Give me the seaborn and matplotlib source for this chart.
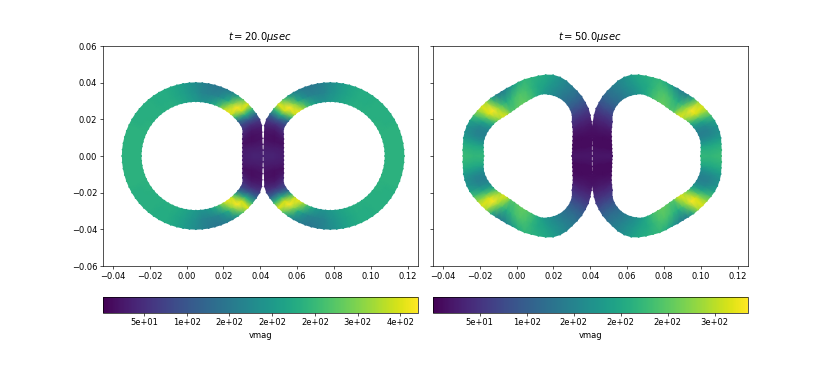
import numpy as np
import pandas as pd
import matplotlib
matplotlib.use("Agg")
import matplotlib.pyplot as plt
from matplotlib.cm import ScalarMappable
from matplotlib.colors import Normalize
import seaborn as sns

# Ring profile by angle around the left ring centre, radii in units of 1e-3
ANGLES = list(range(0, 185, 5))

# t = 20 usec
R_IN_20 = [25.5, 25.6, 25.9, 26.4, 27.1, 28.2, 29.5] + [29.8] * 30
R_OUT_20 = [36.1, 36.2, 36.5, 37.1, 38.0, 39.3] + [39.9] * 31
V_IN_20 = [30, 30, 26, 18, 26, 37, 55, 81, 130, 240, 340, 360, 325, 266, 229, 204, 192,
           192, 200, 207, 215, 222, 229, 233, 233, 233, 233, 233, 233, 237, 237, 237,
           237, 237, 237, 237, 237]
V_MID_20 = [37, 33, 26, 15, 15, 26, 52, 111, 230, 345, 370, 305, 229, 192, 170, 163, 163,
            170, 185, 196, 207, 215, 222, 229, 229, 229, 233, 233, 233, 233, 233, 237,
            237, 237, 237, 237, 237]
V_OUT_20 = [37, 33, 26, 18, 22, 37, 67, 130, 250, 350, 275, 204, 167, 155, 148, 148, 155,
            167, 178, 192, 204, 215, 222, 229, 229, 229, 233, 233, 233, 233, 233, 237,
            237, 237, 237, 237, 237]

# t = 50 usec
R_IN_50 = [22.2, 22.5, 22.8, 23.3, 24.1, 25.0, 26.3, 27.5, 29.0, 31.5, 33.1, 34.2, 35.0,
           35.3, 35.3, 35.0, 34.5, 33.1, 31.5, 30.1, 29.0, 27.9, 27.1, 26.6, 26.3, 26.3,
           26.6, 26.9, 27.1, 27.2, 27.4, 27.4, 27.4, 27.1, 26.6, 26.3, 26.0]
R_OUT_50 = [32.6, 32.7, 33.1, 33.9, 35.1, 36.4, 37.4, 38.8, 40.2, 41.2, 42.3, 43.1, 43.9,
            45.0, 45.6, 45.6, 44.8, 43.7, 42.6, 41.8, 40.7, 39.6, 39.1, 38.5, 38.3, 38.3,
            38.1, 38.1, 38.1, 38.3, 38.5, 38.5, 38.3, 38.0, 37.4, 37.2, 36.9]
V_IN_50 = [20, 17, 10, 10, 10, 13, 20, 34, 47, 67, 90, 111, 127, 141, 154, 168, 184, 208,
           235, 248, 255, 251, 241, 248, 302, 318, 285, 251, 201, 168, 147, 144, 154, 174,
           201, 214, 221]
V_MID_50 = [20, 17, 10, 10, 10, 17, 23, 37, 54, 77, 101, 121, 134, 147, 164, 178, 194, 201,
            218, 235, 241, 235, 218, 208, 235, 285, 335, 318, 251, 194, 161, 147, 154, 178,
            201, 214, 221]
V_OUT_50 = [20, 17, 10, 10, 13, 17, 27, 44, 60, 84, 107, 124, 141, 154, 168, 188, 201, 208,
            214, 221, 208, 184, 157, 141, 151, 201, 285, 318, 285, 235, 194, 174, 168, 184,
            208, 221, 228]

CENTER_20 = 5.0
CENTER_50 = 8.0
MIRROR_20 = 41.5
MIRROR_50 = 41.0
VLIM_20 = (2, 370)
VLIM_50 = (0.5, 335)
TICKS_20 = [50, 100, 150, 200, 250, 300, 350]
TICKS_50 = [50, 100, 150, 200, 250, 300]
TITLES = [r"$t = 20.0\mu sec$", r"$t = 50.0\mu sec$"]

W, H = 830, 383


def ring_layers(r_in, r_out, v_in, v_mid, v_out, center):
    # Three layers over the upper half of the left ring
    th = np.deg2rad(ANGLES)
    r_in, r_out = np.array(r_in), np.array(r_out)
    r = np.vstack([r_in, (r_in + r_out) / 2, r_out])
    x = (center + r * np.cos(th)) / 1000
    y = r * np.sin(th) / 1000
    return x, y, np.vstack([v_in, v_mid, v_out])


def draw_panel(ax, cax, layers, mirror, vlim, ticks, title):
    x, y, v = layers
    norm = Normalize(*vlim)
    m = mirror / 1000
    for xs, ys in [(x, y), (x, -y), (2 * m - x, y), (2 * m - x, -y)]:
        df = pd.DataFrame({"x": xs.ravel(), "y": ys.ravel(), "vmag": v.ravel()})
        sns.scatterplot(data=df, x="x", y="y", hue="vmag", palette="viridis", hue_norm=norm,
                        s=5, linewidth=0, legend=False, ax=ax, zorder=1)
        ax.pcolormesh(xs, ys, v, shading="gouraud", cmap="viridis", norm=norm, zorder=2)
    ax.set_xlim(-0.0454, 0.1253)
    ax.set_ylim(-0.06, 0.06)
    ax.set_xticks(np.arange(-0.04, 0.121, 0.02))
    ax.set_yticks(np.arange(-0.06, 0.061, 0.02))
    ax.set_xlabel("")
    ax.set_ylabel("")
    ax.set_title(title, pad=7)
    cb = ax.figure.colorbar(ScalarMappable(norm=norm, cmap="viridis"), cax=cax,
                            orientation="horizontal", format="%.0e")
    cb.set_ticks(ticks)
    cb.set_label("vmag")


if __name__ == "__main__":
    fig = plt.figure(figsize=(W / 60, H / 60), dpi=60)

    ax1 = fig.add_axes([103 / W, 1 - 266 / H, 314.5 / W, 220 / H])
    ax2 = fig.add_axes([433 / W, 1 - 266 / H, 314.5 / W, 220 / H])
    cax1 = fig.add_axes([103 / W, 1 - 312.5 / H, 314.5 / W, 16 / H])
    cax2 = fig.add_axes([433 / W, 1 - 312.5 / H, 314.5 / W, 16 / H])

    rings20 = ring_layers(R_IN_20, R_OUT_20, V_IN_20, V_MID_20, V_OUT_20, CENTER_20)
    rings50 = ring_layers(R_IN_50, R_OUT_50, V_IN_50, V_MID_50, V_OUT_50, CENTER_50)

    draw_panel(ax1, cax1, rings20, MIRROR_20, VLIM_20, TICKS_20, TITLES[0])
    draw_panel(ax2, cax2, rings50, MIRROR_50, VLIM_50, TICKS_50, TITLES[1])
    ax2.set_yticklabels([])

    fig.savefig("out.png", dpi=60)
